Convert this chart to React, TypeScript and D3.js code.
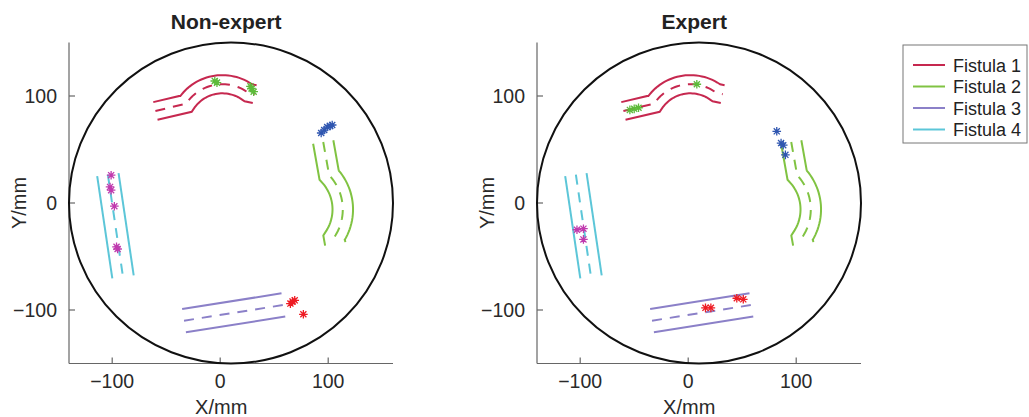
import React from "react";
import * as d3 from "d3";

// ---------- data ----------
const PANEL_TITLES = ["Non-expert", "Expert"];
const X_TICKS = [-100, 0, 100];
const Y_TICKS = [-100, 0, 100];
const X_DOMAIN = [-140, 160];
const Y_DOMAIN = [-150, 150];
const CIRCLE = { cx: 10, cy: 0, r: 150 };

const FISTULA_NAMES = ["Fistula 1", "Fistula 2", "Fistula 3", "Fistula 4"];
const FISTULA_COLORS = ["#C6284F", "#80C342", "#8B80C8", "#5CC6D8"];
const MARKER_COLORS = ["#5DBB3A", "#2F56B0", "#EE1C24", "#C03AAE"];
const HALF_WIDTHS = [8.5, 9.5, 11, 10];

// fistula geometry (mm): start point, bend arc [cx, cy, r, startDeg, endDeg], tail [headingDeg, length]
const f1Start: [number, number] = [-60, 86];
const f1Arc = [2, 71, 40, 147, 53];
const f1Tail = [-12, 6];
const f2Start: [number, number] = [95.4, 57];
const f2Arc = [66.5, -6, 47, 43, -34];
const f2Tail = [-80, 6];
const f3Line: [number, number][] = [[-33.5, -110], [58.5, -95.3]];
const f4Line: [number, number][] = [[-104, 26.5], [-90, -69]];

// markers (mm) per panel, per fistula
const nonExpertMarkers: [number, number][][] = [
  [[-5, 114], [-3, 112.5], [29, 107], [31, 104], [28, 109]],
  [[93.5, 65.4], [96.3, 68.2], [99.1, 71], [101.9, 72], [103.7, 72.9]],
  [[65, -94], [67, -92], [69, -91], [77, -104]],
  [[-101, 26], [-102, 15], [-101, 12], [-98, -3], [-96, -41], [-95, -43]],
];
const expertMarkers: [number, number][][] = [
  [[-54, 87], [-50, 88], [-46, 89], [8, 111]],
  [[82, 67], [86, 56], [88, 54], [90, 45]],
  [[16, -98], [21, -98], [45, -89], [51, -90]],
  [[-103, -25], [-97, -24], [-97, -34]],
];
const PANEL_MARKERS = [nonExpertMarkers, expertMarkers];

// ---------- layout ----------
const W = 1029, H = 417;
const PANEL_X0 = [69, 537];
const PLOT_W = 324;
const Y_TOP = 42.5, Y_BOT = 363.5;
const FONT = "'Liberation Sans', Arial, Helvetica, sans-serif";

type P = [number, number];

// straight -> arc -> tail centerline polyline
function bentCenter(start: P, arc: number[], tail: number[]): P[] {
  const [cx, cy, r, a0, a1] = arc;
  const pts: P[] = [start];
  const n = Math.max(2, Math.round(Math.abs(a1 - a0) / 3));
  for (let i = 0; i <= n; i++) {
    const a = ((a0 + ((a1 - a0) * i) / n) * Math.PI) / 180;
    pts.push([cx + r * Math.cos(a), cy + r * Math.sin(a)]);
  }
  const e = pts[pts.length - 1];
  const h = (tail[0] * Math.PI) / 180;
  pts.push([e[0] + tail[1] * Math.cos(h), e[1] + tail[1] * Math.sin(h)]);
  return pts;
}

// mitered parallel offset
function offsetLine(pts: P[], d: number): P[] {
  const segN = (a: P, b: P): P => {
    const dx = b[0] - a[0], dy = b[1] - a[1];
    const L = Math.hypot(dx, dy) || 1;
    return [-dy / L, dx / L];
  };
  return pts.map((p, i) => {
    let nx: number, ny: number;
    if (i === 0) [nx, ny] = segN(pts[0], pts[1]);
    else if (i === pts.length - 1) [nx, ny] = segN(pts[i - 1], pts[i]);
    else {
      const n1 = segN(pts[i - 1], pts[i]);
      const n2 = segN(pts[i], pts[i + 1]);
      const k = 1 + n1[0] * n2[0] + n1[1] * n2[1];
      nx = (n1[0] + n2[0]) / k;
      ny = (n1[1] + n2[1]) / k;
    }
    return [p[0] + nx * d, p[1] + ny * d];
  });
}

const CENTERS: P[][] = [
  bentCenter(f1Start, f1Arc, f1Tail),
  bentCenter(f2Start, f2Arc, f2Tail),
  f3Line,
  f4Line,
];

function Panel({ idx }: { idx: number }) {
  const x0 = PANEL_X0[idx];
  const xs = d3.scaleLinear().domain(X_DOMAIN).range([x0, x0 + PLOT_W]);
  const ys = d3.scaleLinear().domain(Y_DOMAIN).range([Y_BOT, Y_TOP]);
  const line = d3
    .line<P>()
    .x((d) => xs(d[0]))
    .y((d) => ys(d[1]));
  const markers = PANEL_MARKERS[idx];
  const star = (cx: number, cy: number) => {
    const r = 4.3;
    let s = "";
    for (let k = 0; k < 4; k++) {
      const a = (k * Math.PI) / 4;
      const dx = Math.cos(a) * r, dy = Math.sin(a) * r;
      s += `M${cx - dx},${cy - dy}L${cx + dx},${cy + dy}`;
    }
    return s;
  };
  const cxp = xs(CIRCLE.cx), cyp = ys(CIRCLE.cy);
  const rx = xs(CIRCLE.cx + CIRCLE.r) - cxp;
  const ry = ys(CIRCLE.cy - CIRCLE.r) - cyp;
  return (
    <g>
      {/* axes */}
      <line x1={x0} x2={x0} y1={Y_TOP} y2={Y_BOT} stroke="#666" strokeWidth={1.2} />
      <line x1={x0} x2={x0 + PLOT_W} y1={Y_BOT} y2={Y_BOT} stroke="#666" strokeWidth={1.2} />
      {X_TICKS.map((t) => (
        <g key={"x" + t}>
          <line x1={xs(t)} x2={xs(t)} y1={Y_BOT} y2={Y_BOT - 6} stroke="#666" strokeWidth={1.2} />
          <text x={xs(t)} y={388} textAnchor="middle" fontSize={19.5} fontFamily={FONT} fill="#2a2a2a">
            {t < 0 ? "\u2212" + Math.abs(t) : String(t)}
          </text>
        </g>
      ))}
      {Y_TICKS.map((t) => (
        <g key={"y" + t}>
          <line x1={x0} x2={x0 + 6} y1={ys(t)} y2={ys(t)} stroke="#666" strokeWidth={1.2} />
          <text x={x0 - 12} y={ys(t) + 7} textAnchor="end" fontSize={19.5} fontFamily={FONT} fill="#2a2a2a">
            {t < 0 ? "\u2212" + Math.abs(t) : String(t)}
          </text>
        </g>
      ))}
      <text x={xs(0) + 1} y={414} textAnchor="middle" fontSize={20} fontFamily={FONT} fill="#2a2a2a">X/mm</text>
      <text
        transform={`translate(${x0 - 43},${ys(0)}) rotate(-90)`}
        textAnchor="middle"
        fontSize={20}
        fontFamily={FONT}
        fill="#2a2a2a"
      >
        Y/mm
      </text>
      <text x={xs(0) + 6} y={29} textAnchor="middle" fontSize={21} fontWeight="bold" fontFamily={FONT} fill="#222">
        {PANEL_TITLES[idx]}
      </text>
      {/* circle */}
      <ellipse cx={cxp} cy={cyp} rx={rx} ry={ry} fill="none" stroke="#111" strokeWidth={2} />
      {/* fistulas */}
      {CENTERS.map((c, i) => (
        <g key={"f" + i} fill="none" stroke={FISTULA_COLORS[i]} strokeWidth={2} strokeLinejoin="miter">
          <path d={line(offsetLine(c, HALF_WIDTHS[i])) || ""} />
          <path d={line(offsetLine(c, -HALF_WIDTHS[i])) || ""} />
          <path d={line(c) || ""} strokeDasharray="10,8" />
        </g>
      ))}
      {/* markers */}
      {markers.map((ms, i) => (
        <g key={"m" + i} stroke={MARKER_COLORS[i]} strokeWidth={1.3} fill="none">
          {ms.map((m, j) => (
            <path key={j} d={star(xs(m[0]), ys(m[1]))} />
          ))}
        </g>
      ))}
    </g>
  );
}

function Legend() {
  const x = 903, y = 45, rowH = 21.5;
  return (
    <g>
      <rect x={x} y={y} width={124} height={rowH * 4 + 12} fill="#fff" stroke="#777" strokeWidth={1} />
      {FISTULA_NAMES.map((n, i) => {
        const cy = y + 20 + i * rowH;
        return (
          <g key={n}>
            <line x1={913} x2={945} y1={cy} y2={cy} stroke={FISTULA_COLORS[i]} strokeWidth={2} />
            <text x={953} y={cy + 6.5} fontSize={18} fontFamily={FONT} fill="#222">{n}</text>
          </g>
        );
      })}
    </g>
  );
}

export default function App() {
  return (
    <svg
      width={W}
      height={H}
      viewBox={`0 0 ${W} ${H}`}
      style={{ position: "absolute", left: 0, top: 0, background: "#fff" }}
    >
      <rect width={W} height={H} fill="#fff" />
      <Panel idx={0} />
      <Panel idx={1} />
      <Legend />
    </svg>
  );
}
